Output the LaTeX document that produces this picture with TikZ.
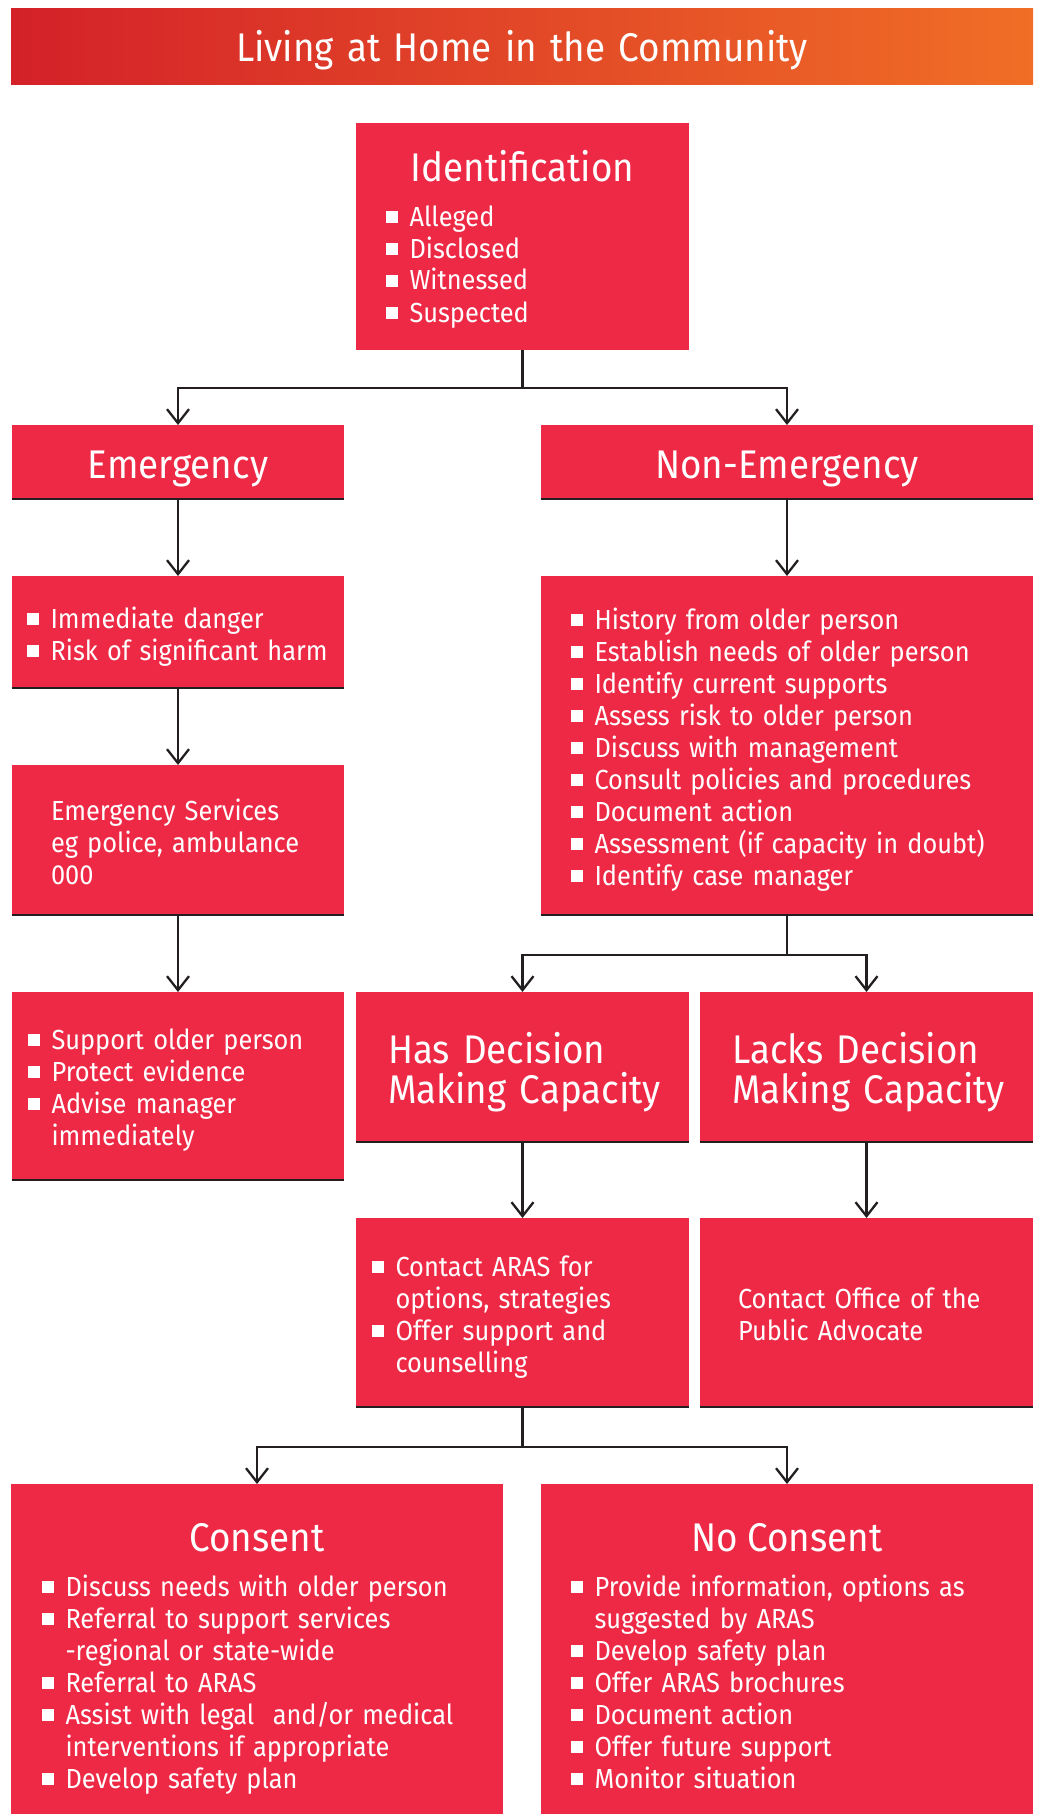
\documentclass[tikz,border=0pt]{standalone}
\usepackage{fontspec}
\setmainfont{Fira Sans}[FakeStretch=0.92]
\usetikzlibrary{arrows.meta}
\definecolor{boxred}{RGB}{238,41,69}
\definecolor{linec}{RGB}{35,31,32}
\definecolor{banl}{RGB}{212,33,41}
\definecolor{banm}{RGB}{226,45,38}
\definecolor{banr}{RGB}{240,110,38}
\newcommand\bfnt{\fontsize{13.8}{16}\selectfont}
\newcommand\hdfnt{\fontsize{20}{20}\selectfont}
\newcommand\itm{\rule[1.5pt]{6pt}{6pt}\hspace{5.75pt}}
\newcommand\cnt{\hspace*{11.75pt}}
\newcommand\ttl[1]{\hspace*{-\leftskip}\makebox[\hsize]{\hdfnt #1}}
\begin{document}
\begin{tikzpicture}[x=0.5pt, y=-0.5pt,
    box/.style={fill=boxred, text=white, anchor=north west, inner sep=0pt,
      outer sep=0pt, align=left, font=\bfnt},
    ruled/.style={path picture={\fill[linec]
      ([yshift=1.25pt]path picture bounding box.south west)
      rectangle (path picture bounding box.south east);}},
    lpad/.style={execute at begin node={\leftskip=#1\relax}},
    head/.style={font=\hdfnt, align=center},
    link/.style={draw=linec, line width=1.15pt},
    arr/.style={link, -{Straight Barb[length=7pt,width=11pt]}}]

\clip (0,0) rectangle (1038,1814);
\useasboundingbox (0,0) rectangle (1038,1814);

\node[box, head, left color=banl, middle color=banm, right color=banr,
  text width=511pt, text height=26.5pt, text depth=11.5pt] (ban) at (11,9)
  {Living at Home in the Community};

\node[box, lpad=15pt, text width=166.5pt, text height=29pt, text depth=84.5pt]
  (idf) at (356,123)
  {\ttl{Identification}\\[6.5pt]
   \itm Alleged\\ \itm Disclosed\\ \itm Witnessed\\ \itm Suspected};

\node[box, ruled, head, text width=166pt, text height=26.5pt, text depth=11pt]
  (emg) at (12,425) {Emergency};
\node[box, ruled, head, text width=246pt, text height=26.5pt, text depth=11pt]
  (nem) at (541,425) {Non-Emergency};

\node[box, ruled, lpad=7.5pt, text width=166pt, text height=26pt, text depth=30.5pt]
  (dgr) at (12,576)
  {\itm Immediate danger\\ \itm Risk of significant harm};
\node[box, ruled, lpad=19.5pt, text width=166pt, text height=27.5pt, text depth=48pt]
  (esv) at (12,765)
  {Emergency Services\\eg police, ambulance\\000};
\node[box, ruled, lpad=8pt, text width=166pt, text height=28.5pt, text depth=66pt]
  (sup) at (12,992)
  {\itm Support older person\\ \itm Protect evidence\\
   \itm Advise manager\\ \cnt immediately};

\node[box, ruled, lpad=15pt, text width=246pt, text height=26.5pt, text depth=143.5pt]
  (nls) at (541,576)
  {\itm History from older person\\ \itm Establish needs of older person\\
   \itm Identify current supports\\ \itm Assess risk to older person\\
   \itm Discuss with management\\ \itm Consult policies and procedures\\
   \itm Document action\\ \itm Assessment (if capacity in doubt)\\
   \itm Identify case manager};

\node[box, ruled, font=\hdfnt, lpad=16pt, text width=166.5pt, text height=35.5pt,
  text depth=40pt] (has) at (356,992) {Has Decision\\Making Capacity};
\node[box, ruled, font=\hdfnt, lpad=16pt, text width=166.5pt, text height=35.5pt,
  text depth=40pt] (lck) at (700,992) {Lacks Decision\\Making Capacity};

\node[box, ruled, lpad=8pt, text width=166.5pt, text height=29pt, text depth=66pt]
  (ara) at (356,1218)
  {\itm Contact ARAS for\\ \cnt options, strategies\\
   \itm Offer support and\\ \cnt counselling};
\node[box, ruled, lpad=19pt, text width=166.5pt, text height=45pt, text depth=50pt]
  (opa) at (700,1218) {Contact Office of the\\Public Advocate};

\node[box, lpad=15.5pt, text width=246pt, text height=33.5pt, text depth=134.5pt]
  (cns) at (11,1484)
  {\ttl{Consent}\\[6.5pt]
   \itm Discuss needs with older person\\
   \itm Referral to support services\\ \cnt -regional or state-wide\\
   \itm Referral to ARAS\\
   \itm Assist with legal~ and/or medical\\ \cnt interventions if appropriate\\
   \itm Develop safety plan};
\node[box, lpad=15pt, text width=246pt, text height=33.5pt, text depth=134.5pt]
  (ncs) at (541,1484)
  {\ttl{No Consent}\\[6.5pt]
   \itm Provide information, options as\\ \cnt suggested by ARAS\\
   \itm Develop safety plan\\ \itm Offer ARAS brochures\\
   \itm Document action\\ \itm Offer future support\\
   \itm Monitor situation};

\draw[link] (idf.south) -- ++(0,38) coordinate (j1);
\draw[arr] (j1) -| (emg.north);
\draw[arr] (j1) -| (nem.north);
\draw[arr] (emg.south) -- (dgr.north);
\draw[arr] (dgr.south) -- (esv.north);
\draw[arr] (esv.south) -- (sup.north);
\draw[arr] (nem.south) -- (nls.north);
\draw[link] (nls.south) -- ++(0,39) coordinate (j2);
\draw[arr] (j2) -| (has.north);
\draw[arr] (j2) -| (lck.north);
\draw[arr] (has.south) -- (ara.north);
\draw[arr] (lck.south) -- (opa.north);
\draw[link] (ara.south) -- ++(0,39) coordinate (j3);
\draw[arr] (j3) -| (cns.north);
\draw[arr] (j3) -| (ncs.north);

\end{tikzpicture}
\end{document}
